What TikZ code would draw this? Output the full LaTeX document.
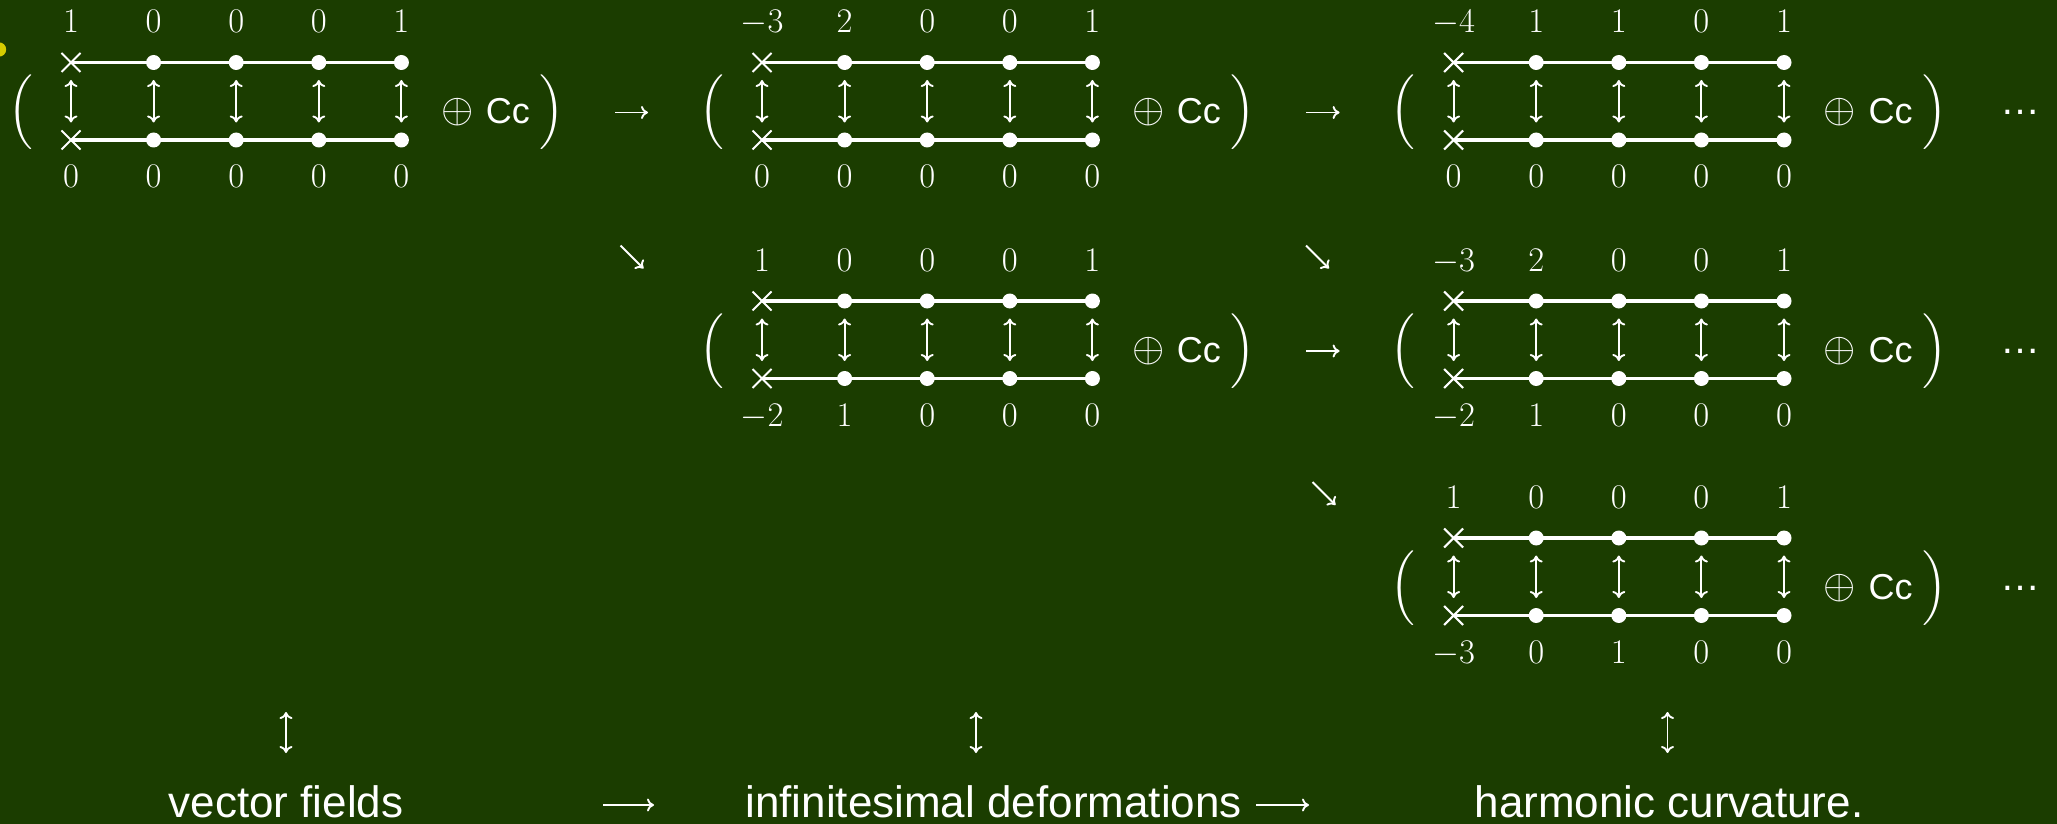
\documentclass[tikz,border=0pt]{standalone}
\usepackage{amsmath}
\usepackage{fontspec}
\usepackage{tikz}
\usetikzlibrary{arrows.meta, shapes.misc, positioning}
\newfontfamily\lsans{Liberation Sans}
\definecolor{slidegreen}{RGB}{27,61,0}
\definecolor{navyellow}{RGB}{214,204,0}

% one bracketed diagram: name, x of first column, axis y, upper and lower weights
\newcommand{\dblock}[5]{%
  \node[crs] (#1u0) at (#2,#3-50) {};
  \node[crs] (#1d0) at (#2,#3+27.5) {};
  \foreach \k in {1,...,4} {
    \node[dot] (#1u\k) at (#2+\k*82.6,#3-50) {};
    \node[dot] (#1d\k) at (#2+\k*82.6,#3+27.5) {};
  }
  \draw[bar] (#1u0.center) -- (#1u4.center);
  \draw[bar] (#1d0.center) -- (#1d4.center);
  \foreach \k in {0,...,4}
    \draw[uda, shorten <=8.75pt, shorten >=8.75pt] (#1u\k.center) -- (#1d\k.center);
  \foreach \w [count=\k from 0] in {#4}
    \node[lbl] (#1a\k) at (#2+\k*82.6,#3-79.5) {$\w$};
  \foreach \w [count=\k from 0] in {#5}
    \node[lbl] (#1b\k) at (#2+\k*82.6,#3+75) {$\w$};
  \node[sym] (#1l) at (#2-50.5,#3) {$\Big($};
  \node[sym] (#1r) at (#2+481,#3) {$\Big)$};
  \node[sym, font=\fontsize{21}{24}\selectfont] (#1p) at (#2+386.5,#3) {$\oplus$};
  \node[cc]  (#1c) at (#2+414.5,#3+11.5) {Cc};
}

\begin{document}
\begin{tikzpicture}[
  x=0.5pt, y=-0.5pt, color=white,
  dot/.style={circle, fill=white, minimum size=7.5pt, inner sep=0pt},
  crs/.style={cross out, draw=white, line width=1pt, minimum size=8.5pt, inner sep=0pt},
  bar/.style={line width=1.8pt},
  lbl/.style={font=\fontsize{16.5}{18}\selectfont, inner sep=0pt, anchor=base},
  sym/.style={font=\fontsize{19.5}{22}\selectfont, inner sep=0pt},
  cc/.style={font=\lsans\fontsize{18}{20}\selectfont, inner sep=0pt, anchor=base west},
  ell/.style={font=\lsans\fontsize{20}{22}\selectfont, inner sep=0pt, anchor=base},
  txt/.style={font=\lsans\fontsize{22}{26}\selectfont, inner sep=0pt, anchor=base},
  arr/.style={-{Computer Modern Rightarrow[length=3.5pt, width=6.5pt]}, line width=0.95pt},
  uda/.style={arr, {Computer Modern Rightarrow[length=3.5pt, width=6.5pt]}-{Computer Modern Rightarrow[length=3.5pt, width=6.5pt]}},
]
\useasboundingbox (0,0) rectangle (2057,824);
\fill[slidegreen] (0,0) rectangle (2057,824);
\begin{scope}
  \clip (0,0) rectangle (2057,824);
  \fill[navyellow] (-1,49.5) circle (3.6pt);
\end{scope}

% ROW 1
\dblock{A}{71}{112.5}{1,0,0,0,1}{0,0,0,0,0}
\dblock{B}{762}{112.5}{-3,2,0,0,1}{0,0,0,0,0}
\dblock{C}{1453.6}{112.5}{-4,1,1,0,1}{0,0,0,0,0}
\draw[arr, shorten <=31.5pt, shorten >=31.75pt] (Ar.center) -- (Bl.center);
\draw[arr, shorten <=31.5pt, shorten >=31.75pt] (Br.center) -- (Cl.center);
\node[ell] (Cdots) at (2020,115) {\dots};

% ROW 2
\dblock{D}{762}{351}{1,0,0,0,1}{-2,1,0,0,0}
\dblock{E}{1453.6}{351}{-3,2,0,0,1}{-2,1,0,0,0}
\draw[arr, shorten <=31.5pt, shorten >=31.75pt] (Dr.center) -- (El.center);
\node[ell] (Edots) at (2020,353.5) {\dots};

% ROW 3
\dblock{F}{1453.6}{588}{1,0,0,0,1}{-3,0,1,0,0}
\node[ell] (Fdots) at (2020,590.5) {\dots};

% diagonal maps
\coordinate (sa1) at (620.5,245.5);  \coordinate (sb1) at (643.5,268.5);
\coordinate (sa2) at (1306,245.5);   \coordinate (sb2) at (1329,268.5);
\coordinate (sa3) at (1312.5,482);   \coordinate (sb3) at (1335.5,505);
\draw[arr] (sa1) -- (sb1);
\draw[arr] (sa2) -- (sb2);
\draw[arr] (sa3) -- (sb3);

% BOTTOM LINE
\node[txt] (vf)  at (286,817) {vector fields};
\node[txt, anchor=base west] (inf) at (745,817) {infinitesimal deformations};
\node[txt] (hc)  at (1669,817) {harmonic curvature.};
\coordinate (va1) at (286,712);    \coordinate (vb1) at (286,753);
\coordinate (va2) at (976,712);    \coordinate (vb2) at (976,753);
\coordinate (va3) at (1667.5,712); \coordinate (vb3) at (1667.5,753);
\draw[uda] (va1) -- (vb1);
\draw[uda] (va2) -- (vb2);
\draw[uda] (va3) -- (vb3);
\coordinate (la1) at (603,805);  \coordinate (lb1) at (654,805);
\coordinate (la2) at (1256,805); \coordinate (lb2) at (1309,805);
\draw[arr] (la1) -- (lb1);
\draw[arr] (la2) -- (lb2);
\end{tikzpicture}
\end{document}
